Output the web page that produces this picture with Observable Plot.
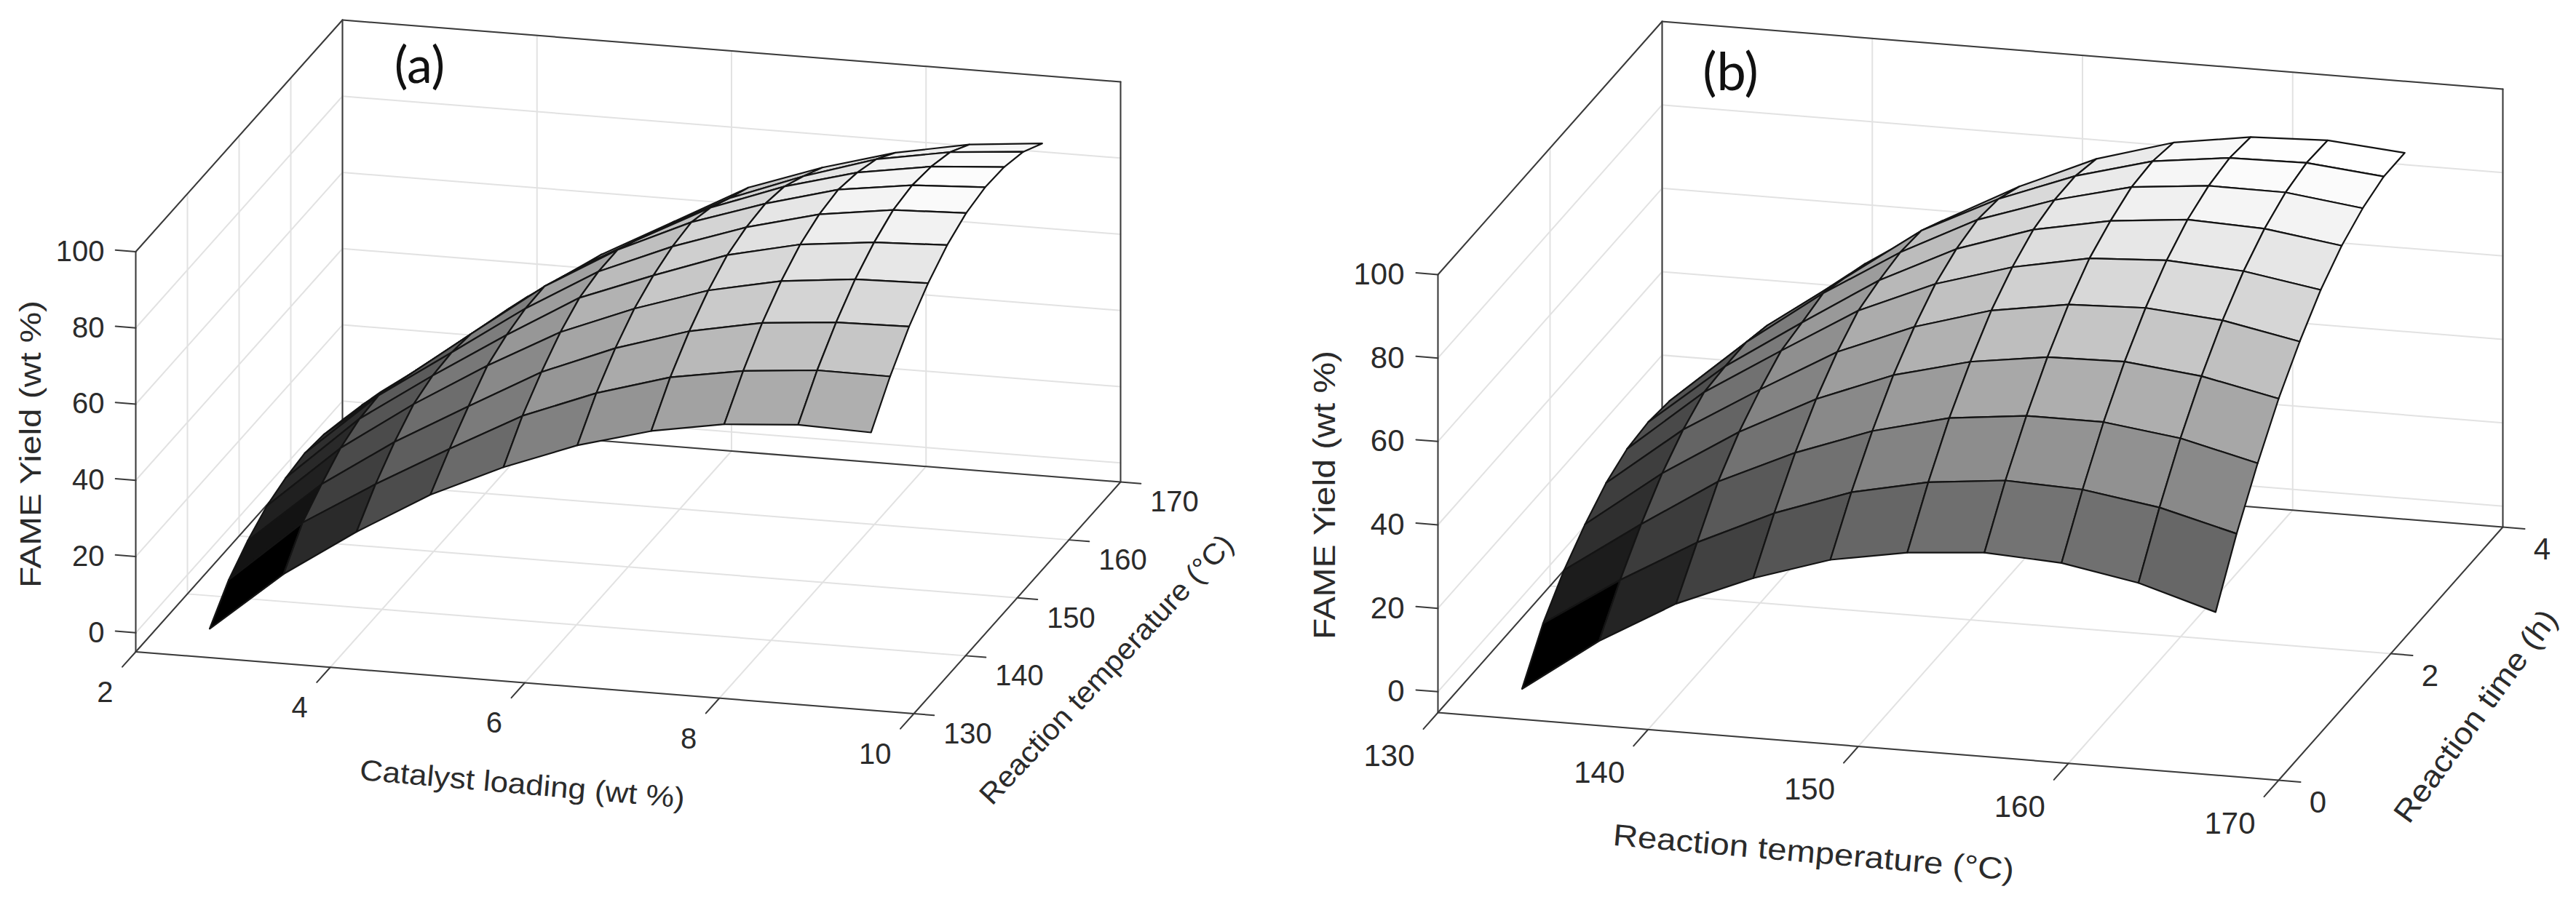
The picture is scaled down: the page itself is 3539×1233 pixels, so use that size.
<!DOCTYPE html>
<html>
<head>
<meta charset="utf-8">
<script src="https://cdn.jsdelivr.net/npm/d3@7"></script>
<script src="https://cdn.jsdelivr.net/npm/@observablehq/plot@0.6"></script>
<style>
  html, body { margin: 0; padding: 0; background: #fff; }
  #chart { display: flex; width: 3539px; height: 1233px; overflow: hidden; }
  svg { display: block; background: #fff; }
</style>
</head>
<body>
<div id="chart"></div>
<script>
// ---------- values ----------
const catalystLoading = [2.76, 3.52, 4.27, 5.03, 5.78, 6.54, 7.30, 8.05, 8.81, 9.56];
const temperatureA = [130, 133.68, 137.36, 141.04, 144.72, 148.4, 152.08, 155.76, 159.44, 163.12];
const yieldA = [
  [2.6, 18.5, 31.1, 42.4, 51.1, 58.4, 63.7, 67.0, 68.4, 67.9],
  [9.8, 26.4, 38.0, 48.8, 59.0, 66.5, 72.2, 75.4, 77.1, 77.0],
  [14.5, 30.9, 43.5, 54.4, 64.9, 72.7, 78.7, 82.4, 84.1, 84.5],
  [18.0, 34.8, 47.8, 59.5, 69.8, 77.5, 83.8, 87.8, 89.8, 90.3],
  [19.8, 36.9, 49.7, 61.9, 73.2, 80.6, 87.5, 91.8, 93.9, 94.7],
  [20.7, 37.4, 50.2, 63.3, 74.5, 82.6, 89.2, 94.1, 96.8, 97.5],
  [20.0, 35.2, 49.4, 63.5, 74.6, 83.4, 89.8, 95.0, 97.7, 98.7],
  [18.3, 32.9, 47.0, 60.6, 71.5, 81.6, 88.7, 93.9, 97.0, 98.4],
  [16.5, 30.5, 44.9, 57.7, 68.2, 78.5, 85.8, 91.8, 95.2, 96.8],
  [14.4, 27.8, 42.5, 55.1, 65.3, 75.7, 82.5, 87.9, 91.6, 93.4]
];
const temperatureB = [134, 137.67, 141.33, 145, 148.67, 152.33, 156, 159.67, 163.33, 167];
const reactionTime = [0, 0.375, 0.75, 1.125, 1.5, 1.875, 2.25, 2.625, 3, 3.375];
const yieldB = [
  [2.3, 15.3, 25.7, 33.3, 39.2, 42.4, 43.9, 42.9, 39.6, 34.1],
  [12.3, 24.2, 34.7, 43.2, 49.7, 53.6, 55.5, 54.8, 52.0, 47.2],
  [19.4, 31.9, 43.6, 52.0, 58.7, 63.3, 65.3, 65.3, 62.9, 58.4],
  [24.7, 38.4, 49.8, 59.2, 66.4, 71.1, 73.7, 74.1, 72.1, 68.2],
  [28.9, 43.2, 54.3, 64.8, 72.3, 77.7, 80.6, 81.3, 79.8, 76.2],
  [31.4, 46.5, 57.9, 69.0, 76.9, 82.4, 86.0, 87.0, 85.9, 82.9],
  [32.1, 47.0, 59.0, 70.6, 79.6, 85.7, 89.3, 91.1, 90.4, 87.8],
  [31.4, 47.1, 60.3, 71.6, 80.9, 87.1, 91.7, 93.5, 93.4, 91.1],
  [29.1, 45.4, 58.2, 71.1, 80.2, 87.2, 92.2, 94.5, 94.8, 93.0],
  [26.6, 42.5, 56.0, 67.8, 77.5, 85.6, 91.0, 93.8, 94.5, 93.0]
];
const catalystTicks = [2, 4, 6, 8, 10];
const tempTicks = [130, 140, 150, 160, 170];
const timeTicks = [0, 2, 4];
const yieldTicks = [0, 20, 40, 60, 80, 100];

const FONT = "Liberation Sans, Arial, sans-serif";
const INK = "#2b2b2b";

// One orthographic box per panel. Its corners come from the picture.
function panel(cfg) {
  const { xDom, yDom, zDom, A, ux, uy, vx, vy, zPx, xs, ys, Z, xTicks, yTicks } = cfg;
  const px = (a, b) => A[0] + (a - xDom[0]) / (xDom[1] - xDom[0]) * ux + (b - yDom[0]) / (yDom[1] - yDom[0]) * vx;
  const py = (a, b, c) => A[1] + (a - xDom[0]) / (xDom[1] - xDom[0]) * uy + (b - yDom[0]) / (yDom[1] - yDom[0]) * vy - (c - zDom[0]) * zPx;
  const P = (a, b, c) => ({ sx: px(a, b), sy: py(a, b, c) });
  const seg = (list, id, p, q) => { list.push({ id, ...p }, { id, ...q }); };

  const grid = [];
  for (const z of yieldTicks) {
    seg(grid, "zb" + z, P(xDom[0], yDom[1], z), P(xDom[1], yDom[1], z));
    seg(grid, "zl" + z, P(xDom[0], yDom[0], z), P(xDom[0], yDom[1], z));
  }
  for (const t of xTicks) {
    seg(grid, "xb" + t, P(t, yDom[1], zDom[0]), P(t, yDom[1], zDom[1]));
    seg(grid, "xf" + t, P(t, yDom[0], zDom[0]), P(t, yDom[1], zDom[0]));
  }
  for (const t of yTicks) {
    seg(grid, "yl" + t, P(xDom[0], t, zDom[0]), P(xDom[0], t, zDom[1]));
    seg(grid, "yf" + t, P(xDom[0], t, zDom[0]), P(xDom[1], t, zDom[0]));
  }

  const box = [];
  const [x0, x1] = xDom, [y0, y1] = yDom, [z0, z1] = zDom;
  seg(box, "b1", P(x0, y0, z0), P(x1, y0, z0));
  seg(box, "b2", P(x1, y0, z0), P(x1, y1, z0));
  seg(box, "b3", P(x0, y0, z0), P(x0, y1, z0));
  seg(box, "b4", P(x0, y1, z0), P(x1, y1, z0));
  seg(box, "b5", P(x0, y0, z0), P(x0, y0, z1));
  seg(box, "b6", P(x0, y1, z0), P(x0, y1, z1));
  seg(box, "b7", P(x1, y1, z0), P(x1, y1, z1));
  seg(box, "b8", P(x0, y1, z1), P(x1, y1, z1));
  seg(box, "b9", P(x0, y0, z1), P(x0, y1, z1));

  // tick marks
  const ticks = [];
  const xTickLabels = xTicks.map(t => {
    const b = P(t, y0, z0);
    seg(ticks, "tx" + t, b, { sx: b.sx - 0.065 * vx, sy: b.sy - 0.065 * vy });
    return { ...b, label: String(t) };
  });
  const yTickLabels = yTicks.map(t => {
    const b = P(x1, t, z0);
    seg(ticks, "ty" + t, b, { sx: b.sx + 0.026 * ux, sy: b.sy + 0.026 * uy });
    return { ...b, label: String(t) };
  });
  const zTickLabels = yieldTicks.map(z => {
    const b = P(x0, y0, z);
    seg(ticks, "tz" + z, b, { sx: b.sx - 0.026 * ux, sy: b.sy - 0.026 * uy });
    return { ...b, label: String(z) };
  });

  // mesh cells, painted far to near; each cell takes the value of its low corner
  const cells = [];
  for (let j = ys.length - 2; j >= 0; j--) {
    for (let i = 0; i < xs.length - 1; i++) {
      const id = j + "-" + i;
      const shade = Z[j][i];
      for (const [a, b] of [[i, j], [i + 1, j], [i + 1, j + 1], [i, j + 1]]) {
        cells.push({ id, shade, ...P(xs[a], ys[b], Z[b][a]) });
      }
    }
  }
  const flat = Z.flat();

  const text = (data, o) => Plot.text(data, {
    x: "sx", y: "sy", text: "label", fontFamily: FONT, fill: INK, stroke: "none", ...o
  });

  const svg = Plot.plot({
    width: cfg.view[1] - cfg.view[0],
    height: 1233,
    margin: 0,
    x: { domain: cfg.view, range: [0, cfg.view[1] - cfg.view[0]], axis: null },
    y: { domain: [0, 1233], range: [0, 1233], axis: null },
    color: { type: "linear", domain: [d3.min(flat), d3.max(flat)], range: ["#000000", "#ffffff"], interpolate: "rgb" },
    marks: [
      Plot.line(grid, { x: "sx", y: "sy", z: "id", stroke: "#e2e2e2", strokeWidth: 2 }),
      Plot.line(box, { x: "sx", y: "sy", z: "id", stroke: "#3a3a3a", strokeWidth: 2 }),
      Plot.line(ticks, { x: "sx", y: "sy", z: "id", stroke: "#3a3a3a", strokeWidth: 2 }),
      Plot.line(cells, { x: "sx", y: "sy", z: "id", fill: "shade", stroke: "#141414", strokeWidth: 2.2, curve: "linear-closed" }),
      text(xTickLabels, { dx: cfg.xLab[0], dy: cfg.xLab[1], fontSize: cfg.tickSize, textAnchor: cfg.xAnchor }),
      text(yTickLabels, { dx: cfg.yLab[0], dy: cfg.yLab[1], fontSize: cfg.tickSize, textAnchor: "middle" }),
      text(zTickLabels, { dx: cfg.zLab, dy: 0, fontSize: cfg.tickSize, textAnchor: "end" }),
      ...cfg.titles.map(t => Plot.text([t], {
        x: "x", y: "y", text: "label", rotate: t.rotate, fontSize: t.size,
        fontFamily: t.family || FONT, fill: t.fill || INK, stroke: "none", textAnchor: "middle"
      }))
    ]
  });
  // the reference's axis titles are stretched along their own direction
  for (const t of cfg.titles) {
    if (!t.length) continue;
    for (const el of svg.querySelectorAll("text")) {
      if (el.textContent === t.label) {
        el.setAttribute("textLength", t.length);
        el.setAttribute("lengthAdjust", "spacingAndGlyphs");
      }
    }
  }
  return svg;
}

const host = document.getElementById("chart");
host.append(panel({
  view: [0, 1770],
  xDom: [2, 10], yDom: [130, 170], zDom: [-5, 100],
  A: [186, 895.5], ux: 1069, uy: 85, vx: 284, vy: -318.5, zPx: 5.238,
  xs: catalystLoading, ys: temperatureA, Z: yieldA,
  xTicks: catalystTicks, yTicks: tempTicks,
  xLab: [-31, 56], xAnchor: "end", yLab: [74, 28], zLab: -43, tickSize: 40,
  titles: [
    { label: "Catalyst loading (wt %)", x: 717, y: 1078, rotate: 5, size: 40, length: 448 },
    { label: "Reaction temperature (°C)", x: 1520, y: 920, rotate: -47, size: 40, length: 490 },
    { label: "FAME Yield (wt %)", x: 43, y: 610, rotate: -90, size: 40, length: 395 },
    { label: "(a)", x: 576, y: 91, rotate: 0, size: 70, family: "Lato", fill: "#111" }
  ]
}));
host.append(panel({
  view: [1770, 3539],
  xDom: [130, 170], yDom: [0, 4], zDom: [-5, 100],
  A: [1975, 979], ux: 1155, uy: 93, vx: 308, vy: -348, zPx: 5.733,
  xs: temperatureB, ys: reactionTime, Z: yieldB,
  xTicks: tempTicks, yTicks: timeTicks,
  xLab: [-67, 60], xAnchor: "middle", yLab: [54, 31], zLab: -46, tickSize: 42,
  titles: [
    { label: "Reaction temperature (°C)", x: 2491, y: 1172, rotate: 5, size: 42, length: 553 },
    { label: "Reaction time (h)", x: 3401, y: 984, rotate: -54, size: 42, length: 350 },
    { label: "FAME Yield (wt %)", x: 1820, y: 680, rotate: -90, size: 42, length: 397 },
    { label: "(b)", x: 2377, y: 100, rotate: 0, size: 72, family: "Lato", fill: "#111" }
  ]
}));
</script>
</body>
</html>
